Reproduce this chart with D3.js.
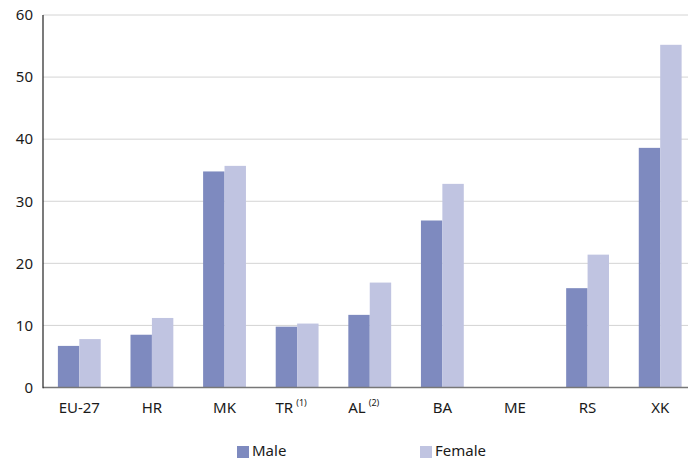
<!DOCTYPE html>
<html><head><meta charset="utf-8">
<script src="https://cdn.jsdelivr.net/npm/d3@7"></script>
<style>body{margin:0;background:#fff}svg{display:block}text{font-family:"Noto Sans",sans-serif;fill:#1a1a1a}</style>
</head><body>
<script>
const categories = ["EU-27","HR","MK","TR","AL","BA","ME","RS","XK"];
const notes = ["","","","(1)","(2)","","","",""];
const male = [6.7,8.5,34.8,9.8,11.7,26.9,null,16.0,38.6];
const female = [7.8,11.2,35.7,10.3,16.9,32.8,null,21.4,55.2];
const yTicks = [0,10,20,30,40,50,60];
const seriesNames = ["Male","Female"];
const colors = ["#7E8ABF","#C0C4E1"];

(function(){
const W=688,H=459;
const svg=d3.select("body").append("svg").attr("width",W).attr("height",H);
const mLeft=43,mRight=688,mTop=15,mBottom=387.5;
const y=d3.scaleLinear().domain([0,60]).range([mBottom,mTop]);
const x=d3.scaleBand().domain(categories).range([mLeft,696.5]).paddingInner(0.41).paddingOuter(0.205);
const xs=d3.scaleBand().domain(seriesNames).range([0,x.bandwidth()]);

svg.append("g").selectAll("line").data(yTicks.filter(d=>d>0)).join("line")
  .attr("x1",mLeft).attr("x2",mRight).attr("y1",d=>y(d)).attr("y2",d=>y(d))
  .attr("stroke","#d4d4d4").attr("stroke-width",1);

svg.append("g").selectAll("text").data(yTicks).join("text")
  .attr("x",33).attr("y",d=>y(d)).attr("dy","0.35em").attr("text-anchor","end")
  .attr("font-size",15).text(d=>d);

const series=[male,female];
seriesNames.forEach((s,si)=>{
  svg.append("g").selectAll("rect").data(categories.map((c,i)=>({c,v:series[si][i]})).filter(d=>d.v!=null)).join("rect")
    .attr("x",d=>x(d.c)+xs(s)).attr("width",xs.bandwidth())
    .attr("y",d=>y(d.v)).attr("height",d=>y(0)-y(d.v)).attr("fill",colors[si]);
});

svg.append("line").attr("x1",mLeft).attr("x2",mRight).attr("y1",y(0)).attr("y2",y(0)).attr("stroke","#777").attr("stroke-width",1.5);
svg.append("line").attr("x1",mLeft).attr("x2",mLeft).attr("y1",mTop).attr("y2",y(0)+0.75).attr("stroke","#222").attr("stroke-width",1.2);

const xl=svg.append("g").selectAll("text").data(categories).join("text")
  .attr("x",(d,i)=>x(d)+x.bandwidth()/2 - (notes[i]?6:0)).attr("y",413).attr("text-anchor","middle")
  .attr("font-size",15);
xl.append("tspan").text(d=>d);
xl.append("tspan").attr("font-size",9).attr("dy",-7).attr("dx",3).text((d,i)=>notes[i]);

const lx=[237,420];
seriesNames.forEach((s,i)=>{
  svg.append("rect").attr("x",lx[i]).attr("y",446).attr("width",12).attr("height",12).attr("fill",colors[i]);
  svg.append("text").attr("x",lx[i]+15).attr("y",455.5).attr("font-size",15).text(s);
});
})();
</script>
</body></html>
